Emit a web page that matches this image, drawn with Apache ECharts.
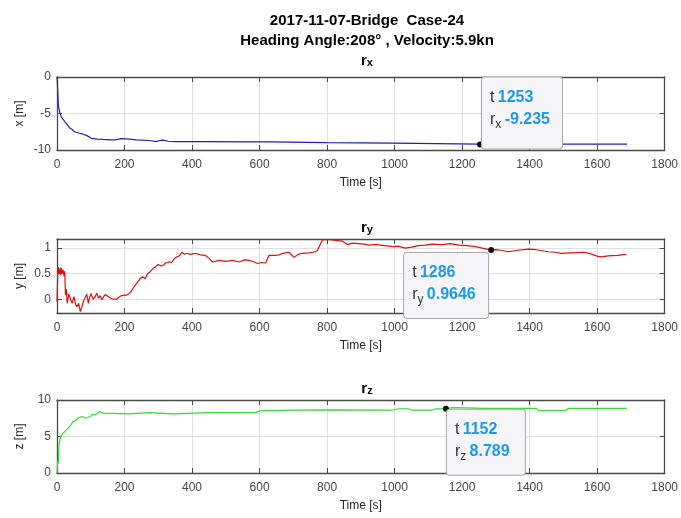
<!DOCTYPE html>
<html>
<head>
<meta charset="utf-8">
<script src="https://cdn.jsdelivr.net/npm/echarts@6/dist/echarts.min.js"></script>
<style>html,body{margin:0;padding:0;background:#fff;}#c{width:681px;height:518px;}</style>
</head>
<body>
<div id="c"></div>
<script>
// ---- data ----
const xTicks = [0,200,400,600,800,1000,1200,1400,1600,1800];
const rxData = [[0,0],[2,-1.6],[4,-3.9],[8,-4.8],[13,-5.5],[23,-6.1],[30,-6.5],[38,-7.0],[45,-7.2],[52,-7.5],[60,-7.6],[67,-7.7],[75,-7.8],[87,-8.0],[95,-8.2],[101,-8.4],[120,-8.5],[136,-8.55],[160,-8.6],[175,-8.6],[190,-8.45],[215,-8.5],[234,-8.6],[274,-8.7],[294,-8.85],[305,-8.7],[313,-8.65],[330,-8.8],[353,-8.85],[452,-8.85],[560,-8.88],[630,-8.9],[635,-9.0],[800,-9.0],[995,-9.05],[1000,-9.15],[1253,-9.2],[1440,-9.2],[1445,-9.05],[1450,-9.2],[1495,-9.2],[1500,-9.05],[1510,-9.2],[1689,-9.2]];
const ryData = [[0,-0.05],[2,0.45],[4,0.63],[6,0.5],[8,0.6],[10,0.47],[12,0.62],[15,0.5],[18,0.58],[21,0.45],[23,0.55],[25,0.08],[28,0.2],[30,-0.08],[35,0.1],[40,0.0],[45,-0.08],[50,0.05],[55,-0.1],[59,-0.15],[64,-0.08],[69,-0.24],[74,-0.15],[78,-0.05],[83,-0.02],[88,0.1],[93,-0.08],[97,0.05],[101,0.11],[107,0.0],[113,0.05],[118,0.12],[123,0.02],[128,0.07],[133,-0.01],[138,0.05],[143,0.09],[148,0.12],[153,0.05],[160,0.02],[167,0.0],[172,-0.03],[177,0.0],[185,0.05],[192,0.07],[200,0.08],[207,0.08],[215,0.12],[222,0.18],[229,0.25],[236,0.31],[241,0.28],[246,0.4],[253,0.44],[261,0.4],[268,0.5],[276,0.54],[284,0.6],[291,0.63],[300,0.68],[308,0.65],[316,0.67],[323,0.72],[330,0.73],[340,0.72],[348,0.8],[355,0.83],[362,0.85],[370,0.92],[378,0.88],[385,0.9],[395,0.88],[410,0.9],[425,0.87],[439,0.86],[451,0.8],[461,0.73],[480,0.76],[500,0.74],[520,0.76],[540,0.73],[555,0.77],[569,0.76],[580,0.74],[594,0.70],[605,0.72],[618,0.71],[628,0.86],[645,0.86],[657,0.87],[670,0.9],[687,0.92],[702,0.82],[715,0.88],[726,0.9],[745,0.91],[760,0.92],[771,0.95],[786,1.16],[800,1.17],[815,1.16],[830,1.15],[845,1.14],[860,1.07],[875,1.1],[894,1.09],[910,1.08],[924,1.06],[945,1.07],[970,1.05],[997,1.03],[1010,1.04],[1032,1.0],[1050,1.02],[1070,1.05],[1090,1.06],[1111,1.08],[1140,1.07],[1165,1.09],[1190,1.06],[1215,1.05],[1239,1.03],[1260,1.0],[1286,0.9646],[1300,0.97],[1315,0.96],[1337,0.93],[1365,0.96],[1396,0.98],[1420,0.97],[1455,0.93],[1475,0.92],[1494,0.90],[1520,0.91],[1563,0.92],[1585,0.88],[1602,0.84],[1615,0.83],[1632,0.85],[1660,0.86],[1686,0.88]];
const rzData = [[0,0],[2,1.6],[4,1.3],[6,3.9],[11,5.0],[16,5.2],[23,5.7],[30,6.0],[38,6.4],[47,7.0],[55,7.2],[62,7.5],[70,7.7],[77,7.7],[85,7.5],[92,7.6],[100,7.8],[106,8.0],[115,8.0],[126,8.4],[136,8.2],[215,8.1],[274,8.27],[343,8.1],[452,8.27],[590,8.3],[600,8.5],[700,8.6],[800,8.65],[990,8.6],[1012,8.8],[1040,8.8],[1052,8.6],[1111,8.6],[1121,8.8],[1152,8.789],[1170,8.95],[1239,8.9],[1260,8.85],[1420,8.85],[1426,8.56],[1505,8.56],[1515,8.85],[1688,8.85]];
const yTicksX = [-10,-5,0];
const yTicksY = [0,0.5,1];
const yTicksZ = [0,5,10];
const tipX = {t:1253, v:'-9.235', y:-9.235, sub:'x'};
const tipY = {t:1286, v:'0.9646', y:0.9646, sub:'y'};
const tipZ = {t:1152, v:'8.789', y:8.789, sub:'z'};

const FONT = 'Liberation Sans';
const boxColor = '#4a4a4a';
const gridColor = '#e0e0e0';

const grids = [
  {left:57, right:14, top:77, height:73},
  {left:57, right:14, top:239, height:74},
  {left:57, right:14, top:400, height:73}
];

function xAxes(i){
  return [
    {type:'value', gridIndex:i, min:0, max:1800, interval:200, position:'bottom',
     name:'Time [s]', nameLocation:'middle', nameGap:27, nameMoveOverlap:false,
     nameTextStyle:{fontFamily:FONT, fontSize:12, color:'#262626'},
     axisLine:{show:true, onZero:false, lineStyle:{color:boxColor, width:1.3}},
     axisTick:{show:true, inside:true, length:5, lineStyle:{color:boxColor}},
     axisLabel:{fontFamily:FONT, fontSize:12, color:'#454545', margin:9, formatter:v => String(v)},
     splitLine:{show:true, lineStyle:{color:gridColor, width:1}}},
    {type:'value', gridIndex:i, min:0, max:1800, interval:200, position:'top',
     axisLine:{show:true, onZero:false, lineStyle:{color:boxColor, width:1.3}},
     axisTick:{show:true, inside:true, length:5, lineStyle:{color:boxColor}},
     axisLabel:{show:false}, splitLine:{show:false}}
  ];
}
function yAxes(i, min, max, ticks, name){
  const common = {type:'value', gridIndex:i, min:min, max:max};
  return [
    Object.assign({}, common, {position:'left', name:name, nameLocation:'middle', nameGap:31, nameMoveOverlap:false,
     nameTextStyle:{fontFamily:FONT, fontSize:12, color:'#262626'},
     axisLine:{show:true, onZero:false, lineStyle:{color:boxColor, width:1.3}},
     axisTick:{show:true, inside:true, length:5, customValues:ticks, lineStyle:{color:boxColor}},
     axisLabel:{fontFamily:FONT, fontSize:12, color:'#454545', margin:6, customValues:ticks, formatter:v => String(v)},
     splitLine:{show:true, lineStyle:{color:gridColor, width:1}}}),
    Object.assign({}, common, {position:'right',
     axisLine:{show:true, onZero:false, lineStyle:{color:boxColor, width:1.3}},
     axisTick:{show:true, inside:true, length:5, customValues:ticks, lineStyle:{color:boxColor}},
     axisLabel:{show:false, customValues:ticks}, splitLine:{show:false}})
  ];
}

const tipRich = {
  k:{fontFamily:FONT, fontSize:16, color:'#333333', lineHeight:22},
  v:{fontFamily:FONT, fontSize:16, fontWeight:'bold', color:'#1e98e8', lineHeight:22},
  s:{fontFamily:FONT, fontSize:12, color:'#333333', lineHeight:6, verticalAlign:'bottom'}
};
function tipPoint(tip, pos, w, h){
  return {
    symbol:'circle', symbolSize:6, itemStyle:{color:'#111'},
    data:[{coord:[tip.t, tip.y], value:tip.y}],
    label:{show:true, position:pos, align:'left', verticalAlign:'top',
      backgroundColor:'#f6f6f8', borderColor:'#a8a8a8', borderWidth:1, borderRadius:3,
      padding:[9,4,0,8], width:w, height:h,
      formatter: () => '{k|t} {v|' + tip.t + '}\n{k|r}{s|' + tip.sub + '} {v|' + tip.v + '}',
      rich: tipRich},
    animation:false
  };
}

const subRich = {
  r:{fontFamily:FONT, fontSize:15, fontWeight:'bold', color:'#000'},
  s:{fontFamily:FONT, fontSize:11, fontWeight:'bold', color:'#000', verticalAlign:'bottom', lineHeight:6}
};

const option = {
  animation:false,
  backgroundColor:'#ffffff',
  title:[
    {text:'2017-11-07-Bridge  Case-24\nHeading Angle:208° , Velocity:5.9kn', left:362, textAlign:'center', top:6,
     textStyle:{fontFamily:FONT, fontSize:15, fontWeight:'bold', color:'#000', lineHeight:20}},
    {text:'{r|r}{s|x}', left:362, textAlign:'center', top:48, textStyle:{rich:subRich}},
    {text:'{r|r}{s|y}', left:362, textAlign:'center', top:215, textStyle:{rich:subRich}},
    {text:'{r|r}{s|z}', left:362, textAlign:'center', top:376, textStyle:{rich:subRich}}
  ],
  grid: grids,
  xAxis: [].concat(xAxes(0), xAxes(1), xAxes(2)),
  yAxis: [].concat(
    yAxes(0, -10, 0, yTicksX, 'x [m]'),
    yAxes(1, -0.27, 1.18, yTicksY, 'y [m]'),
    yAxes(2, 0, 10, yTicksZ, 'z [m]')),
  series:[
    {type:'line', xAxisIndex:0, yAxisIndex:0, data:rxData, showSymbol:false, symbol:'none',
     lineStyle:{color:'#2020b4', width:1.2}, markPoint: tipPoint(tipX, [5,-64], 68, 62)},
    {type:'line', xAxisIndex:2, yAxisIndex:2, data:ryData, showSymbol:false, symbol:'none',
     lineStyle:{color:'#dd1111', width:1.2}, markPoint: tipPoint(tipY, [-84,6], 72, 56)},
    {type:'line', xAxisIndex:4, yAxisIndex:4, data:rzData, showSymbol:false, symbol:'none',
     lineStyle:{color:'#33dd33', width:1.2}, markPoint: tipPoint(tipZ, [4,4], 66, 56)}
  ]
};
const chart = echarts.init(document.getElementById('c'), null, {renderer:'canvas'});
chart.setOption(option);
</script>
</body>
</html>
